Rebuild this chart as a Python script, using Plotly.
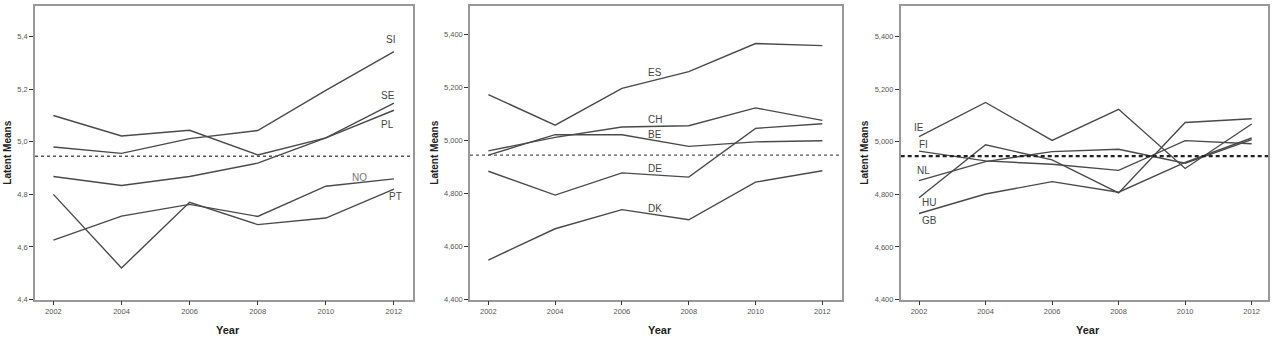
import plotly.graph_objects as go

years = [2002, 2004, 2006, 2008, 2010, 2012]
REF_MEAN = 4.945

# Panel 1
SI = [4.980, 4.956, 5.012, 5.043, 5.196, 5.343]
PL = [5.100, 5.022, 5.044, 4.950, 5.015, 5.120]
SE = [4.868, 4.834, 4.868, 4.919, 5.015, 5.147]
NO = [4.626, 4.717, 4.762, 4.716, 4.831, 4.859]
PT = [4.800, 4.520, 4.770, 4.685, 4.710, 4.820]

# Panel 2
ES = [5.173, 5.058, 5.197, 5.260, 5.366, 5.358]
CH = [4.961, 5.012, 5.051, 5.056, 5.123, 5.076]
BE = [4.945, 5.022, 5.022, 4.978, 4.995, 4.999]
DE = [4.884, 4.794, 4.878, 4.862, 5.046, 5.063]
DK = [4.549, 4.667, 4.739, 4.701, 4.843, 4.886]

# Panel 3
IE = [5.019, 5.149, 5.005, 5.123, 4.898, 5.067]
FI = [4.964, 4.927, 4.914, 4.891, 5.004, 4.992]
NL = [4.852, 4.924, 4.962, 4.971, 4.918, 5.008]
HU = [4.787, 4.988, 4.931, 4.805, 5.073, 5.087]
GB = [4.727, 4.801, 4.848, 4.808, 4.921, 5.014]

panels = [
    {"series": {"SI": SI, "PL": PL, "SE": SE, "NO": NO, "PT": PT},
     "labels": [("SI", 2011.9, 5.388), ("SE", 2011.83, 5.178), ("PL", 2011.81, 5.065),
                ("NO", 2010.98, 4.866), ("PT", 2012.06, 4.79)],
     "ticktext": ["4,4", "4,6", "4,8", "5,0", "5,2", "5,4"]},
    {"series": {"ES": ES, "CH": CH, "BE": BE, "DE": DE, "DK": DK},
     "labels": [("ES", 2007.0, 5.255), ("CH", 2007.0, 5.078), ("BE", 2007.0, 5.024),
                ("DE", 2007.0, 4.893), ("DK", 2007.0, 4.745)],
     "ticktext": ["4,400", "4,600", "4,800", "5,000", "5,200", "5,400"]},
    {"series": {"IE": IE, "FI": FI, "NL": NL, "HU": HU, "GB": GB},
     "labels": [("IE", 2002.0, 5.054), ("FI", 2002.13, 4.989), ("NL", 2002.15, 4.889),
                ("HU", 2002.29, 4.767), ("GB", 2002.31, 4.70)],
     "ticktext": ["4,400", "4,600", "4,800", "5,000", "5,200", "5,400"]},
]
tickvals = [4.4, 4.6, 4.8, 5.0, 5.2, 5.4]

W, H = 1275, 338
x_domains = [(35 / W, 413 / W), (470 / W, 841.7 / W), (900.7 / W, 1268 / W)]
x_ranges = [(2001.46, 2012.56), (2001.45, 2012.58), (2001.45, 2012.49)]
y_tops = [5.517, 5.508, 5.516]
ytitle_x = [8, 435, 865]
y_domain = (1 - 304 / H, 1 - 6 / H)

FONT = "Liberation Sans, Arial, sans-serif"
LINE_COLOR = "#4a4a4a"

fig = go.Figure()
layout = dict(width=W, height=H, margin=dict(l=0, r=0, t=0, b=0),
              paper_bgcolor="white", plot_bgcolor="white", showlegend=False,
              font=dict(family=FONT, color="#444"))

annotations = []
for i, p in enumerate(panels):
    xa = "x" if i == 0 else f"x{i+1}"
    ya = "y" if i == 0 else f"y{i+1}"
    for name, vals in p["series"].items():
        fig.add_trace(go.Scatter(x=years, y=vals, mode="lines", name=name,
                                 line=dict(color=LINE_COLOR, width=1.4),
                                 xaxis=xa, yaxis=ya, hoverinfo="skip"))
    # reference line
    fig.add_trace(go.Scatter(x=list(x_ranges[i]), y=[REF_MEAN, REF_MEAN], mode="lines",
                             line=dict(color="#222" if i == 2 else "#555",
                                       width=2.2 if i == 2 else 1.3,
                                       dash="4px,3px" if i == 2 else "3px,3px"),
                             xaxis=xa, yaxis=ya, hoverinfo="skip"))
    for text, lx, ly in p["labels"]:
        annotations.append(dict(x=lx, y=ly, xref=xa, yref=ya, text=text, showarrow=False,
                                xanchor="center", yanchor="middle",
                                font=dict(size=10, color="#777" if text == "NO" else "#444",
                                          family=FONT)))
    xkey = "xaxis" if i == 0 else f"xaxis{i+1}"
    ykey = "yaxis" if i == 0 else f"yaxis{i+1}"
    layout[xkey] = dict(domain=list(x_domains[i]), range=list(x_ranges[i]), anchor=ya,
                        tickvals=years, ticktext=[str(y) for y in years],
                        ticks="outside", ticklen=4, tickcolor="#333", tickwidth=1,
                        tickfont=dict(size=7.5, color="#555", family=FONT),
                        showline=True, linecolor="#999", linewidth=1.5, mirror=True,
                        showgrid=False, zeroline=False, fixedrange=True)
    layout[ykey] = dict(domain=list(y_domain), range=[4.4, y_tops[i]], anchor=xa,
                        tickvals=tickvals, ticktext=p["ticktext"],
                        ticks="outside", ticklen=4, tickcolor="#333", tickwidth=1,
                        tickfont=dict(size=7.5, color="#555", family=FONT),
                        showline=True, linecolor="#999", linewidth=1.5, mirror=True,
                        showgrid=False, zeroline=False, fixedrange=True)
    # axis titles
    annotations.append(dict(x=ytitle_x[i] / W, y=1 - 155 / H, xref="paper", yref="paper",
                            xanchor="center", yanchor="middle",
                            text="<b>Latent Means</b>", textangle=-90, showarrow=False,
                            font=dict(size=10, color="#222", family=FONT)))
    cx = (x_domains[i][0] + x_domains[i][1]) / 2 + 0.003
    annotations.append(dict(x=cx, y=1 - 335 / H, xref="paper", yref="paper",
                            xanchor="center", yanchor="middle",
                            text="<b>Year</b>", showarrow=False,
                            font=dict(size=11, color="#222", family=FONT)))

layout["annotations"] = annotations
fig.update_layout(**layout)
fig.write_html("out.html", config={"displayModeBar": False},
               post_script="document.body.style.margin='0';document.body.style.overflow='hidden';")
